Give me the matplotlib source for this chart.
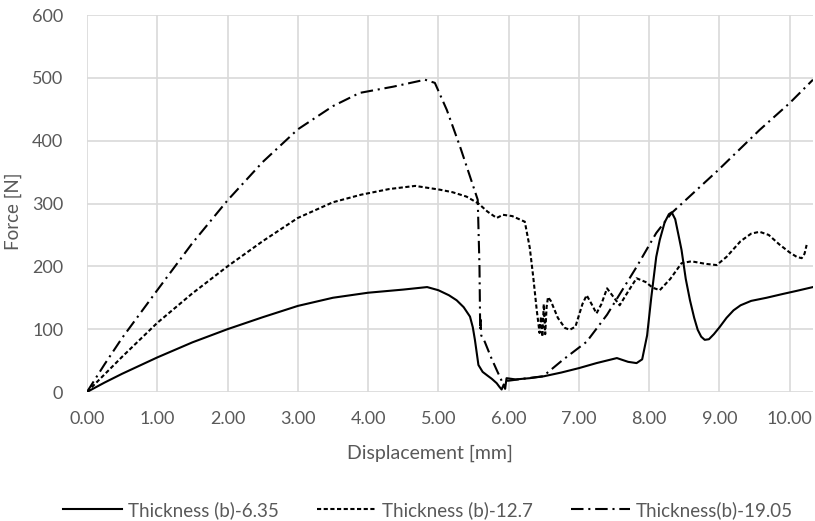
import matplotlib
matplotlib.use('Agg')
import matplotlib.pyplot as plt

# force-displacement curves for the three specimen thicknesses
x_635 = [0, 0.25, 0.5, 0.75, 1.0, 1.5, 2.0, 2.5, 3.0, 3.5, 4.0, 4.5, 4.84, 5.0, 5.15, 5.26, 5.36, 5.45, 5.49,
         5.52, 5.57, 5.63, 5.7, 5.76, 5.83, 5.87, 5.9, 5.93, 5.95, 5.97, 6.1, 6.3, 6.5, 6.75, 7.0, 7.25,
         7.54, 7.7, 7.82, 7.9, 7.97, 8.03, 8.1, 8.15, 8.22, 8.28, 8.32, 8.37, 8.42, 8.46, 8.52, 8.58, 8.64,
         8.69, 8.74, 8.79, 8.85, 8.92, 9.0, 9.1, 9.2, 9.3, 9.45, 9.67, 9.9, 10.1, 10.33]
y_635 = [0, 15, 29, 42, 55, 79, 100, 119, 137, 150, 158, 163, 167, 162, 154, 146, 135, 120, 103,
         83, 43, 32, 26, 21, 14, 8, 4, 12, 5, 22, 20, 22, 25, 31, 38, 46,
         54, 48, 46, 52, 90, 151, 215, 242, 270, 283, 286, 275, 248, 226, 180, 146, 118,
         99, 88, 83, 84, 92, 103, 118, 130, 138, 145, 150, 156, 161, 167]

x_127 = [0, 0.25, 0.5, 1.0, 1.5, 2.0, 2.5, 3.0, 3.5, 3.9, 4.3, 4.67, 5.02, 5.2, 5.4, 5.57, 5.7, 5.83, 5.92,
         6.05, 6.23, 6.3, 6.35, 6.4, 6.44, 6.46, 6.48, 6.5, 6.52, 6.54, 6.56, 6.6, 6.7, 6.8, 6.87, 6.95,
         7.05, 7.11, 7.18, 7.25, 7.32, 7.4, 7.5, 7.58, 7.7, 7.82, 7.95, 8.05, 8.15, 8.3, 8.46, 8.6, 8.8,
         8.96, 9.1, 9.3, 9.45, 9.57, 9.7, 9.85, 10.0, 10.1, 10.17, 10.21, 10.24]
y_127 = [0, 28, 56, 110, 157, 200, 240, 277, 302, 314, 323, 328, 322, 318, 311, 300, 287, 277, 282,
         280, 271, 230, 183, 130, 94, 120, 88, 140, 92, 135, 151, 145, 118, 102, 99, 104,
         140, 154, 140, 125, 140, 165, 150, 138, 160, 181, 175, 166, 162, 180, 205, 208, 204,
         202, 215, 240, 252, 255, 250, 235, 222, 215, 213, 220, 234]

x_1905 = [0, 0.25, 0.5, 1.0, 1.5, 2.0, 2.5, 3.0, 3.5, 3.88, 4.36, 4.81, 4.95, 5.12, 5.31, 5.45, 5.56, 5.585,
          5.595, 5.6, 5.61, 5.66, 5.75, 5.83, 5.9, 6.0, 6.2, 6.49, 6.77, 7.11, 7.4, 7.82, 8.1, 8.32, 8.98,
          9.57, 10.0, 10.33]
y_1905 = [0, 44, 86, 162, 237, 305, 366, 418, 455, 476, 486, 497, 492, 449, 390, 343, 306, 200,
          99, 115, 90, 80, 55, 35, 18, 18, 21, 25, 51, 80, 123, 199, 253, 285, 353,
          417, 460, 497]

labels = ['Thickness (b)-6.35', 'Thickness (b)-12.7', 'Thickness(b)-19.05']
x_ticks = [0, 1, 2, 3, 4, 5, 6, 7, 8, 9, 10]
y_ticks = [0, 100, 200, 300, 400, 500, 600]

plt.rcParams['font.family'] = ['Lato', 'DejaVu Sans']
grey = '#595959'

fig = plt.figure(figsize=(8.15, 5.21), dpi=100)
ax = fig.add_axes([0.1067, 0.2476, 0.8908, 0.7236])

ax.plot(x_635, y_635, color='black', lw=1.5, label=labels[0])
ax.plot(x_127, y_127, color='black', lw=1.5, dashes=(2.0, 1.2), label=labels[1])
ax.plot(x_1905, y_1905, color='black', lw=1.5, dashes=(6, 2.3, 1, 2.3), label=labels[2])

ax.set_xlim(0, 10.33)
ax.set_ylim(0, 600)
ax.set_xticks(x_ticks)
ax.set_xticklabels(['%.2f' % v for v in x_ticks])
ax.set_yticks(y_ticks)
ax.grid(True, color='#d9d9d9', lw=1.2)
ax.set_axisbelow(True)
for s in ax.spines.values():
    s.set_visible(False)
ax.tick_params(length=0, colors=grey, labelsize=13, pad=14)
ax.tick_params(axis='y', pad=17)

ax.set_xlabel('Displacement [mm]', color=grey, fontsize=14)
ax.set_ylabel('Force [N]', color=grey, fontsize=13.5)
ax.xaxis.set_label_coords(0.472, -0.14)
ax.yaxis.set_label_coords(-0.09, 0.48)

fig.legend(loc='center', bbox_to_anchor=(0.525, 0.021), ncol=3, frameon=False, fontsize=13.5,
           handlelength=3.15, columnspacing=2.0, handletextpad=0.35, labelcolor=grey)

fig.savefig('out.png', dpi=100)
